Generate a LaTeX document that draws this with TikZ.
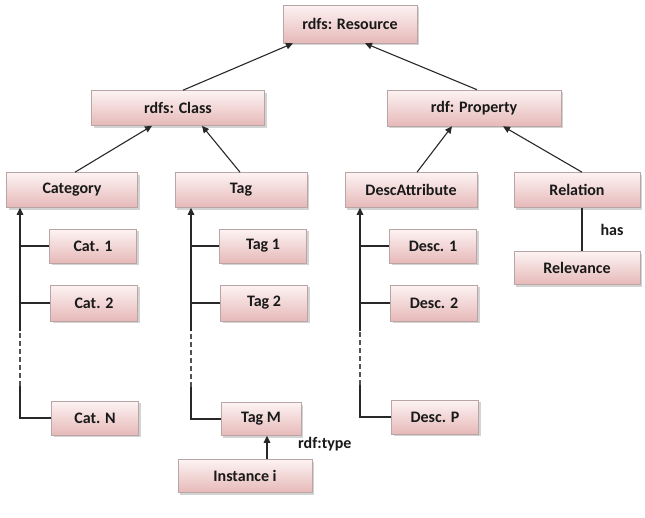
\documentclass[tikz,border=0pt]{standalone}
\usepackage{fontspec}
\setmainfont{Carlito}
\usetikzlibrary{arrows.meta,shadows}
\definecolor{boxtop}{RGB}{253,243,243}
\definecolor{boxbot}{RGB}{230,185,184}
\definecolor{boxline}{RGB}{185,165,165}
\definecolor{lnc}{RGB}{40,40,40}
\definecolor{txt}{RGB}{25,25,25}
\begin{document}
\begin{tikzpicture}[x=1pt,y=-1pt,
  box/.style={draw=boxline, line width=0.6pt, top color=boxtop, bottom color=boxbot,
    minimum height=35pt, inner sep=0pt, text=txt, font=\fontsize{16}{18}\selectfont\bfseries,
    drop shadow={shadow xshift=2pt, shadow yshift=-2pt, opacity=0.35, fill=gray}},
  wide/.style={box, minimum width=132pt},
  small/.style={box, minimum width=87pt},
  ln/.style={draw=lnc, line width=1.1pt},
  arr/.style={ln, -{Triangle[length=7pt,width=6.5pt]}},
  dsh/.style={draw=lnc!80, line width=1.2pt, dash pattern=on 5pt off 3pt},
  lbl/.style={font=\fontsize{16}{18}\selectfont\bfseries, text=txt, inner sep=0pt}
]
\useasboundingbox (0,0) rectangle (645,517);
% top levels
\node[box, minimum width=134pt, minimum height=38pt] (res) at (350,24) {rdfs: Resource};
\node[box, minimum width=173pt] (class) at (178,108) {rdfs: Class};
\node[box, minimum width=174pt, minimum height=36pt] (prop) at (474,108) {rdf: Property};
% third level
\node[wide, minimum width=131pt] (cat) at (72,190) {Category};
\node[wide] (tag) at (241,190) {Tag};
\node[wide] (desc) at (411,190) {DescAttribute};
\node[box, minimum width=126pt] (rel) at (577,190) {Relation};
% children
\node[small, minimum height=34pt] (cat1) at (93,246) {Cat. 1};
\node[small, minimum height=36pt] (cat2) at (94,303) {Cat. 2};
\node[small, minimum height=34pt] (catN) at (95,418) {Cat. N};
\node[small, minimum height=34pt] (tag1) at (263,246) {Tag 1};
\node[small, minimum height=36pt] (tag2) at (264,303) {Tag 2};
\node[box, minimum width=80pt, minimum height=33pt] (tagM) at (261,419) {Tag M};
\node[small, minimum height=34pt] (desc1) at (433,246) {Desc. 1};
\node[small, minimum height=36pt] (desc2) at (434,303) {Desc. 2};
\node[small, minimum height=34pt] (descP) at (435,417) {Desc. P};
\node[box, minimum width=126pt, minimum height=33pt] (relev) at (577,268) {Relevance};
\node[box, minimum width=134pt, minimum height=33pt] (inst) at (245,476) {Instance i};
% hierarchy arrows
\draw[arr] ([xshift=5pt]class.north) -- ([xshift=-57pt]res.south);
\draw[arr] ([xshift=3pt]prop.north) -- ([xshift=15pt]res.south);
\draw[arr] ([xshift=3pt]cat.north) -- ([xshift=-26pt]class.south);
\draw[arr] ([xshift=-1pt]tag.north) -- ([xshift=24pt]class.south);
\draw[arr] ([xshift=6pt]desc.north) -- ([xshift=-22pt]prop.south);
\draw[arr] ([xshift=5pt]rel.north) -- ([xshift=29pt]prop.south);
% trunks
\coordinate (tc) at (20,0);
\coordinate (tt) at (191,0);
\coordinate (td) at (360,0);
\foreach \t/\p/\a/\b/\l in {tc/cat/cat1/cat2/catN, tt/tag/tag1/tag2/tagM, td/desc/desc1/desc2/descP}{
  \draw[ln] (\l.west) -- (\l.west -| \t) -- ([yshift=32pt]\l.west -| \t);
  \draw[dsh] ([yshift=32pt]\l.west -| \t) -- ([yshift=-10pt]\b.south -| \t);
  \draw[arr] ([yshift=-10pt]\b.south -| \t) -- (\p.south -| \t);
  \draw[ln] (\a.west) -- (\a.west -| \t);
  \draw[ln] (\b.west) -- (\b.west -| \t);
}
% relation
\draw[ln] ([xshift=5pt]rel.south) -- ([xshift=5pt]relev.north);
\node[lbl] (has) at (612,230) {has};
% instance
\coordinate (ix) at (267,0);
\draw[arr] (inst.north -| ix) -- (tagM.south -| ix);
\node[lbl, anchor=west] (rdft) at (298,444) {rdf:type};
\end{tikzpicture}
\end{document}
